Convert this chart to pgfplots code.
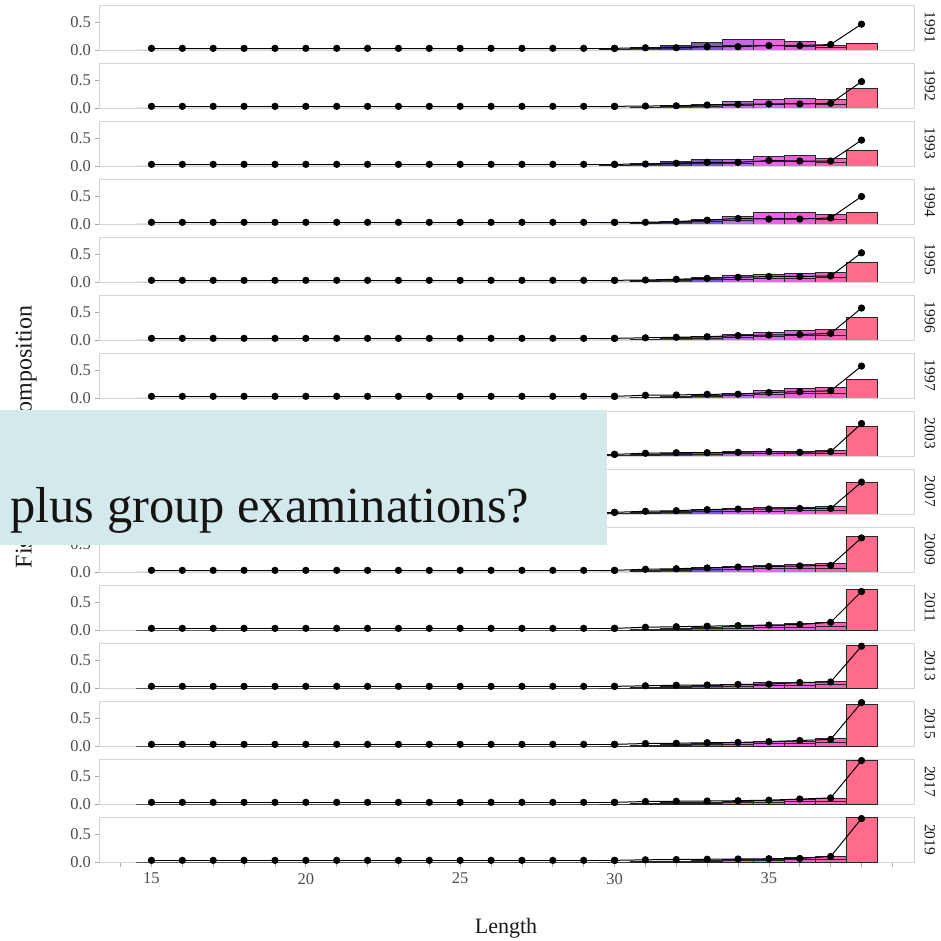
\documentclass[border=0pt]{standalone}
\usepackage{fontspec}
\setmainfont{Liberation Serif}
\usepackage{pgfplots}
\usepackage{pgfplotstable}
\pgfplotsset{compat=1.18}
\definecolor{cA}{HTML}{4E3F93}
\definecolor{cB}{HTML}{7B5AC9}
\definecolor{cC}{HTML}{C36AE4}
\definecolor{cD}{HTML}{E865EC}
\definecolor{cE}{HTML}{EC5FD8}
\definecolor{cF}{HTML}{F262AE}
\definecolor{cG}{HTML}{FF6B8B}
\definecolor{boxc}{HTML}{D3E9EC}
\definecolor{tickgray}{HTML}{4D4D4D}
\definecolor{framegray}{HTML}{D4D4D4}
\definecolor{tickmark}{HTML}{ABABAB}

% shared rows for lengths 15-30 (all near zero)
\pgfplotstableread[row sep=\\]{
L t l d\\
15 0 0 0.03\\ 16 0 0 0.03\\ 17 0 0 0.03\\ 18 0 0 0.03\\ 19 0 0 0.03\\
20 0 0 0.03\\ 21 0 0 0.03\\ 22 0 0 0.03\\ 23 0 0 0.03\\ 24 0 0 0.03\\
25 0 0 0.03\\ 26 0 0 0.03\\ 27 0 0 0.03\\ 28 0 0 0.03\\ 29 0 0 0.03\\
30 0 0 0.03\\
}\low

% per year: L total lower dot
\pgfplotstableread[row sep=\\]{
L t l d\\ 30 0.01 0 0.03\\ 31 0.05 0.02 0.04\\ 32 0.09 0.04 0.04\\ 33 0.13 0.06 0.06\\ 34 0.20 0.09 0.06\\ 35 0.20 0.09 0.08\\ 36 0.15 0.07 0.08\\ 37 0.09 0.04 0.10\\ 38 0.11 0 0.47\\
}\tA
\pgfplotstableread[row sep=\\]{
L t l d\\ 30 0 0 0.03\\ 31 0.01 0 0.035\\ 32 0.04 0.02 0.04\\ 33 0.07 0.03 0.055\\ 34 0.115 0.05 0.067\\ 35 0.16 0.07 0.073\\ 36 0.175 0.08 0.073\\ 37 0.16 0.07 0.085\\ 38 0.36 0 0.48\\
}\tB
\pgfplotstableread[row sep=\\]{
L t l d\\ 30 0.01 0 0.03\\ 31 0.05 0.02 0.036\\ 32 0.08 0.04 0.05\\ 33 0.11 0.05 0.067\\ 34 0.12 0.05 0.067\\ 35 0.17 0.08 0.10\\ 36 0.19 0.09 0.09\\ 37 0.13 0.06 0.09\\ 38 0.28 0 0.47\\
}\tC
\pgfplotstableread[row sep=\\]{
L t l d\\ 30 0 0 0.03\\ 31 0.02 0.01 0.03\\ 32 0.04 0.02 0.045\\ 33 0.08 0.04 0.07\\ 34 0.13 0.06 0.10\\ 35 0.21 0.10 0.09\\ 36 0.21 0.10 0.09\\ 37 0.18 0.08 0.11\\ 38 0.21 0 0.50\\
}\tD
\pgfplotstableread[row sep=\\]{
L t l d\\ 30 0 0 0.03\\ 31 0.02 0.01 0.036\\ 32 0.05 0.02 0.05\\ 33 0.085 0.04 0.067\\ 34 0.11 0.05 0.085\\ 35 0.145 0.07 0.10\\ 36 0.16 0.07 0.10\\ 37 0.17 0.08 0.11\\ 38 0.35 0 0.53\\
}\tE
\pgfplotstableread[row sep=\\]{
L t l d\\ 30 0 0 0.03\\ 31 0.01 0 0.04\\ 32 0.04 0.02 0.05\\ 33 0.07 0.03 0.06\\ 34 0.10 0.05 0.08\\ 35 0.13 0.06 0.09\\ 36 0.18 0.08 0.10\\ 37 0.19 0.09 0.12\\ 38 0.41 0 0.58\\
}\tF
\pgfplotstableread[row sep=\\]{
L t l d\\ 30 0 0 0.03\\ 31 0.01 0 0.05\\ 32 0.025 0.01 0.055\\ 33 0.055 0.03 0.067\\ 34 0.085 0.04 0.07\\ 35 0.145 0.07 0.10\\ 36 0.18 0.08 0.115\\ 37 0.19 0.09 0.13\\ 38 0.345 0 0.58\\
}\tG
\pgfplotstableread[row sep=\\]{
L t l d\\ 30 0.01 0 0.03\\ 31 0.03 0.015 0.05\\ 32 0.05 0.025 0.06\\ 33 0.07 0.035 0.06\\ 34 0.08 0.04 0.067\\ 35 0.09 0.045 0.08\\ 36 0.09 0.045 0.067\\ 37 0.10 0.05 0.08\\ 38 0.53 0 0.59\\
}\tH
\pgfplotstableread[row sep=\\]{
L t l d\\ 30 0.01 0 0.03\\ 31 0.03 0.015 0.05\\ 32 0.05 0.025 0.06\\ 33 0.08 0.04 0.08\\ 34 0.10 0.05 0.09\\ 35 0.11 0.05 0.09\\ 36 0.12 0.06 0.10\\ 37 0.13 0.06 0.10\\ 38 0.57 0 0.58\\
}\tI
\pgfplotstableread[row sep=\\]{
L t l d\\ 30 0 0 0.03\\ 31 0.02 0.01 0.05\\ 32 0.05 0.025 0.06\\ 33 0.08 0.04 0.075\\ 34 0.10 0.05 0.09\\ 35 0.12 0.06 0.10\\ 36 0.14 0.07 0.11\\ 37 0.15 0.07 0.12\\ 38 0.65 0 0.62\\
}\tJ
\pgfplotstableread[row sep=\\]{
L t l d\\ 30 0 0 0.03\\ 31 0.01 0 0.05\\ 32 0.02 0.01 0.06\\ 33 0.04 0.02 0.07\\ 34 0.06 0.03 0.08\\ 35 0.09 0.04 0.09\\ 36 0.11 0.05 0.10\\ 37 0.14 0.07 0.14\\ 38 0.74 0 0.70\\
}\tK
\pgfplotstableread[row sep=\\]{
L t l d\\ 30 0 0 0.03\\ 31 0.01 0 0.04\\ 32 0.03 0.015 0.05\\ 33 0.05 0.025 0.055\\ 34 0.07 0.035 0.065\\ 35 0.095 0.045 0.07\\ 36 0.11 0.05 0.10\\ 37 0.125 0.06 0.11\\ 38 0.78 0 0.76\\
}\tL
\pgfplotstableread[row sep=\\]{
L t l d\\ 30 0 0 0.03\\ 31 0.01 0 0.045\\ 32 0.02 0.01 0.05\\ 33 0.04 0.02 0.06\\ 34 0.06 0.03 0.065\\ 35 0.08 0.04 0.08\\ 36 0.09 0.045 0.10\\ 37 0.14 0.07 0.12\\ 38 0.76 0 0.79\\
}\tM
\pgfplotstableread[row sep=\\]{
L t l d\\ 30 0 0 0.03\\ 31 0.01 0 0.045\\ 32 0.02 0.01 0.05\\ 33 0.03 0.015 0.055\\ 34 0.05 0.025 0.06\\ 35 0.06 0.03 0.07\\ 36 0.085 0.04 0.09\\ 37 0.11 0.05 0.11\\ 38 0.79 0 0.79\\
}\tN
\pgfplotstableread[row sep=\\]{
L t l d\\ 30 0 0 0.03\\ 31 0.005 0 0.04\\ 32 0.01 0 0.045\\ 33 0.02 0.01 0.05\\ 34 0.04 0.02 0.055\\ 35 0.05 0.025 0.06\\ 36 0.08 0.04 0.065\\ 37 0.10 0.05 0.10\\ 38 0.81 0 0.79\\
}\tO

\newcommand\tickfont{\fontsize{16.5}{18}\selectfont}
\pgfplotsset{
  panel/.style={
    anchor=south west, scale only axis, width=815pt, height=45pt,
    xmin=13.3, xmax=39.7, ymin=0, ymax=0.818,
    axis line style={draw=framegray, line width=0.9pt},
    ytick={0,0.5}, yticklabels={0.0,0.5},
    xtick=\empty, xtick pos=bottom, ytick pos=left,
    tick align=outside, major tick length=4.5pt,
    tick style={draw=tickmark, line width=0.8pt},
    ticklabel style={font=\tickfont, text=tickgray},
  },
  bars/.style={ybar, bar width=1, bar shift=0pt, draw=black!85, line width=0.9pt},
  dots/.style={black, line width=1pt, mark=*, mark size=3.1pt, mark options={solid, fill=black}},
}

\newcommand\panel[4]{%
\begin{axis}[panel, at={(99pt,#3pt)}, #4]
\addplot[bars, fill=cA] table[x=L,y=t]{\low};
\addplot[bars, fill=cA, restrict x to domain=29.5:32.5] table[x=L,y=t]{#1};
\addplot[bars, fill=cB, restrict x to domain=32.5:33.5] table[x=L,y=t]{#1};
\addplot[bars, fill=cC, restrict x to domain=33.5:34.5] table[x=L,y=t]{#1};
\addplot[bars, fill=cD, restrict x to domain=34.5:35.5] table[x=L,y=t]{#1};
\addplot[bars, fill=cE, restrict x to domain=35.5:36.5] table[x=L,y=t]{#1};
\addplot[bars, fill=cF, restrict x to domain=36.5:37.5] table[x=L,y=t]{#1};
\addplot[bars, fill=cG, restrict x to domain=37.5:38.5] table[x=L,y=t]{#1};
\addplot[bars, fill=cA, restrict x to domain=30.5:32.5] table[x=L,y=l]{#1};
\addplot[bars, fill=cB, restrict x to domain=32.5:33.5] table[x=L,y=l]{#1};
\addplot[bars, fill=cC, restrict x to domain=33.5:34.5] table[x=L,y=l]{#1};
\addplot[bars, fill=cD, restrict x to domain=34.5:35.5] table[x=L,y=l]{#1};
\addplot[bars, fill=cE, restrict x to domain=35.5:36.5] table[x=L,y=l]{#1};
\addplot[bars, fill=cF, restrict x to domain=36.5:37.5] table[x=L,y=l]{#1};
\addplot[dots] table[x=L,y=d]{\low};
\addplot[dots] table[x=L,y=d]{#1};
\end{axis}
\node[rotate=-90, font=\fontsize{15.5}{17}\selectfont, text=black!90] at ({930pt},{#3pt+22.5pt}) {#2};
}

\begin{document}
\begin{tikzpicture}
\path[use as bounding box] (0pt,0pt) rectangle (941pt,940pt);
\panel{\tA}{1991}{890}{}
\panel{\tB}{1992}{832}{}
\panel{\tC}{1993}{774}{}
\panel{\tD}{1994}{716}{}
\panel{\tE}{1995}{658}{}
\panel{\tF}{1996}{600}{}
\panel{\tG}{1997}{542}{}
\panel{\tH}{2003}{484}{}
\panel{\tI}{2007}{426}{}
\panel{\tJ}{2009}{368}{}
\panel{\tK}{2011}{310}{}
\panel{\tL}{2013}{252}{}
\panel{\tM}{2015}{194}{}
\panel{\tN}{2017}{136}{}
\panel{\tO}{2019}{78}{xtick={14,...,39}, xticklabels={{},15,{},{},{},{},20,{},{},{},{},25,{},{},{},{},30,{},{},{},{},35,{},{},{},{}}, xticklabel style={yshift=-3pt}}
\node[font=\fontsize{22}{24}\selectfont, text=black!90] at (506pt,12pt) {Length};
\node[rotate=90, font=\fontsize{24}{26}\selectfont, text=black!90] at (26pt,503pt) {Fishery length composition};
\fill[boxc] (0pt,395pt) rectangle (607pt,530pt);
\node[anchor=base west, inner sep=0pt, font=\fontsize{50.5}{60}\selectfont, text=black!92] at (10pt,417pt) {plus group examinations?};
\end{tikzpicture}
\end{document}
